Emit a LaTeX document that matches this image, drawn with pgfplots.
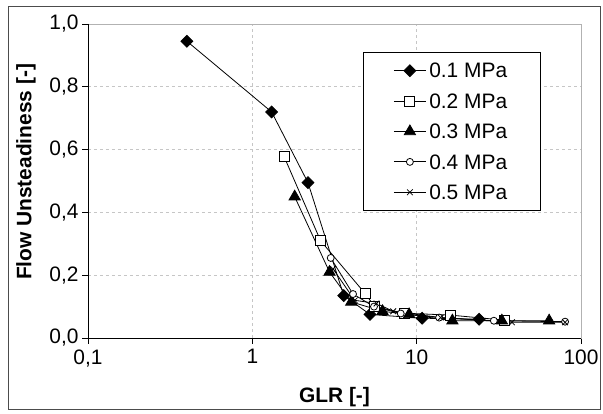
\documentclass[border=0pt]{standalone}
\usepackage{pgfplots}
\pgfplotsset{compat=1.18}
\usepackage{fontspec}
\setmainfont{Liberation Sans}

\begin{document}
\begin{tikzpicture}
\useasboundingbox (0bp,0bp) rectangle (603bp,414bp);
\draw[gray!60!black, line width=1bp] (8bp,4bp) rectangle (600bp,407bp);
\begin{axis}[
  at={(88bp,76bp)}, anchor=south west,
  scale only axis, width=493bp, height=314bp,
  xmode=log, xmin=0.1, xmax=100,
  ymin=0, ymax=1,
  xtick={0.1,1,10,100}, xticklabels={{0,1},1,10,100},
  xminorticks=false,
  ytick={0,0.2,0.4,0.6,0.8,1},
  yticklabel style={/pgf/number format/.cd, fixed, fixed zerofill, precision=1, use comma, assume math mode=true},
  ticklabel style={font=\fontsize{21}{25}\selectfont},
  xticklabel style={yshift=-2bp},
  tick align=outside, major tick length=6bp,
  xtick pos=bottom, ytick pos=left,
  every tick/.style={black, line width=0.8bp},
  grid=major,
  major grid style={gray!45, dash pattern=on 3bp off 3bp, line width=0.8bp},
  axis line style={draw=gray!60, line width=0.8bp},
  xlabel={GLR [-]},
  ylabel={Flow Unsteadiness [-]},
  label style={font=\fontsize{21}{25}\selectfont\bfseries},
  xlabel style={at={(axis description cs:0.5,-0.207)}, anchor=base},
  ylabel style={at={(axis description cs:-0.1258,0.529)}, anchor=center},
  legend style={at={(rel axis cs:0.558,0.911)}, anchor=north west,
    font=\fontsize{21}{25}\selectfont, draw=black, line width=0.8bp,
    inner xsep=30bp, inner ysep=8bp, row sep=9.8bp,
    nodes={inner sep=3bp, text depth=0pt}},
  legend cell align=left,
  legend image code/.code={\draw[mark repeat=2,mark phase=2] plot coordinates {(0bp,0bp) (16bp,0bp) (32bp,0bp)};},
  after end axis/.code={
    \draw[black, line width=0.8bp] (rel axis cs:0,1) -- (rel axis cs:0,0) -- (rel axis cs:1,0);
  },
]
% 0.1 MPa
\addplot[black, line width=0.8bp, mark=square*, mark size=4.2bp, mark options={rotate=45, fill=black}]
  coordinates {(0.40,0.945) (1.31,0.72) (2.18,0.495) (3.6,0.135) (5.2,0.075) (10.8,0.063) (24,0.06)};
% 0.2 MPa
\addplot[black, line width=0.8bp, mark=square*, mark size=5bp, mark options={fill=white}]
  coordinates {(1.56,0.578) (2.6,0.31) (4.85,0.142) (5.55,0.10) (8.4,0.079) (16,0.073) (34,0.057)};
% 0.3 MPa
\addplot[black, line width=0.8bp, mark=triangle*, mark size=6.5bp, mark options={fill=black}]
  coordinates {(1.81,0.45) (2.95,0.21) (4.0,0.115) (6.2,0.085) (9.0,0.075) (16.5,0.055) (33,0.055) (64,0.055)};
% 0.4 MPa
\addplot[black, line width=0.8bp, mark=*, mark size=3.5bp, mark options={fill=white}]
  coordinates {(3.0,0.255) (4.1,0.14) (5.5,0.10) (8.0,0.078) (13.7,0.065) (29.5,0.055) (80,0.052)};
% 0.5 MPa
\addplot[black, line width=0.8bp, mark=x, mark size=4bp]
  coordinates {(3.1,0.22) (4.2,0.12) (5.7,0.11) (7.2,0.085) (14,0.065) (38,0.05) (80,0.05)};
\legend{0.1 MPa, 0.2 MPa, 0.3 MPa, 0.4 MPa, 0.5 MPa}
\end{axis}
\end{tikzpicture}
\end{document}
